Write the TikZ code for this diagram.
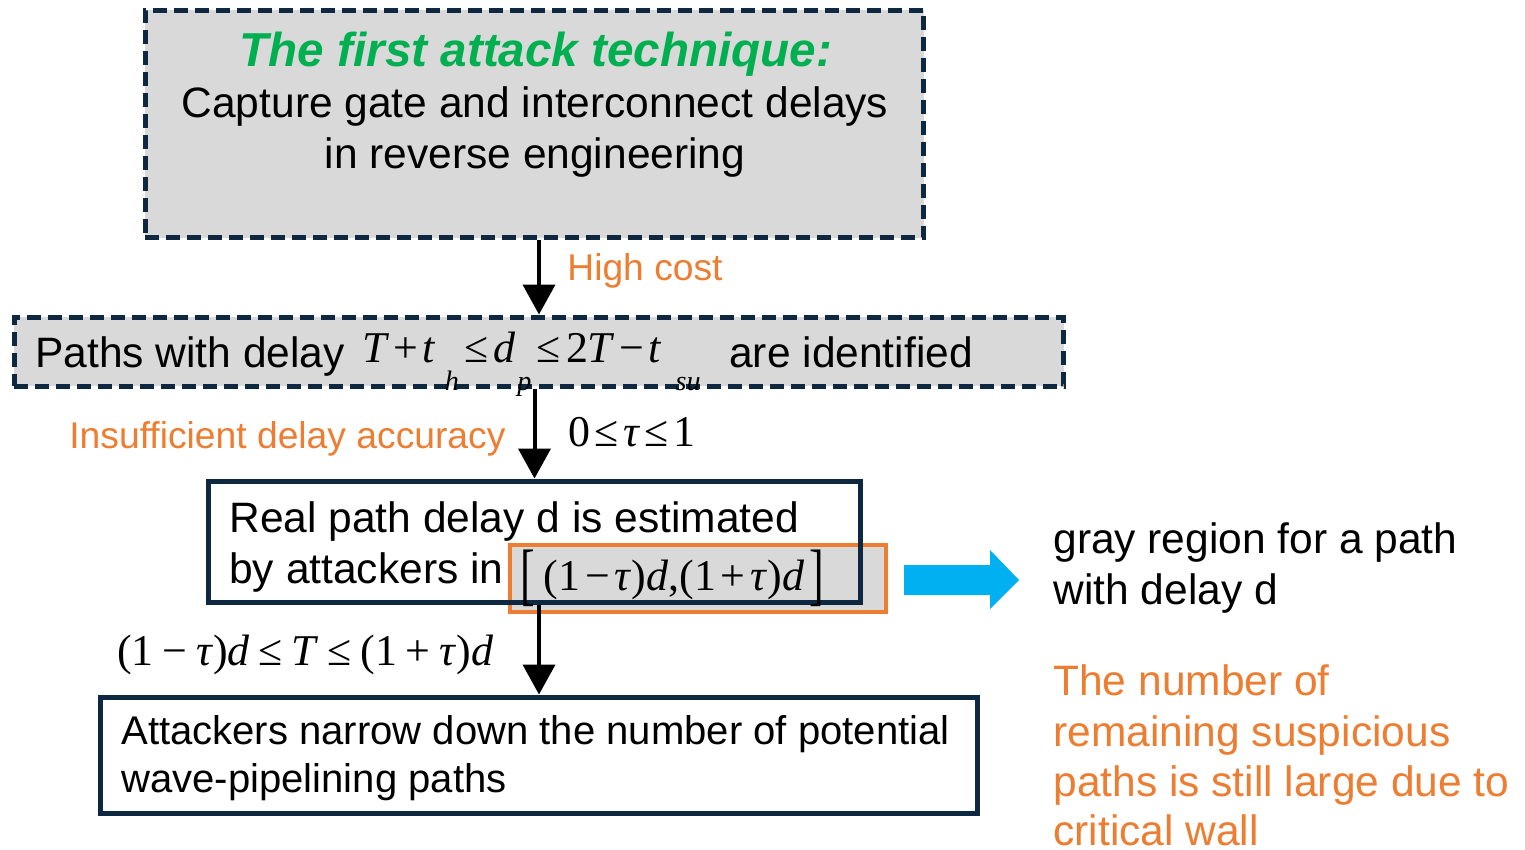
\documentclass[tikz,border=0pt]{standalone}
\usepackage{fontspec}
\usepackage{graphicx}
\setmainfont{Liberation Sans}
\newfontfamily\serifmath{Liberation Serif}
\usetikzlibrary{arrows.meta}

\definecolor{navy}{HTML}{0E2841}
\definecolor{boxgray}{HTML}{D9D9D9}
\definecolor{accentorange}{HTML}{ED7D31}
\definecolor{titlegreen}{HTML}{00B050}
\definecolor{arrowblue}{HTML}{00B0F0}

% hand-set formula helpers (serif, italic variables)
\newlength\bingap
\newlength\relgap
\newcommand\mv[1]{\textit{#1}}
\newcommand\bin[1]{\hspace{\bingap}#1\hspace{\bingap}}
\newcommand\rel[1]{\hspace{\relgap}#1\hspace{\relgap}}
\newcommand\lowsub[1]{\raisebox{-0.64em}{\fontsize{16}{16}\selectfont\itshape #1}}
\newcommand\tallbr[1]{\raisebox{-0.17em}{\scalebox{1}[1.56]{#1}}}

\tikzset{
  dashbox/.style={rectangle, draw=navy, line width=0.1cm, dash pattern=on 0.28cm off 0.14cm, fill=boxgray, inner sep=0},
  solidbox/.style={rectangle, draw=navy, line width=0.1cm, inner sep=0},
  regionbox/.style={rectangle, draw=accentorange, line width=0.09cm, fill=boxgray, inner sep=0},
  txt/.style={inner sep=0, font=\fontsize{24.2}{29}\selectfont},
  note/.style={inner sep=0, text=accentorange, font=\fontsize{21.2}{25}\selectfont},
  eq/.style={inner sep=0, font=\serifmath\fontsize{25}{30}\selectfont},
  flow/.style={line width=0.08cm, -{Triangle[length=0.6cm,width=0.64cm]}},
}

\begin{document}
\begin{tikzpicture}[x=0.02cm, y=-0.02cm]
\useasboundingbox (0,0) rectangle (1525,849);

% top box: the first attack technique
\node[dashbox, minimum width=15.58cm, minimum height=4.56cm] (technique) at (534.5,124) {};
\node[inner sep=0, anchor=base, text=titlegreen, font=\bfseries\itshape\fontsize{27.1}{32}\selectfont] (title) at (536,66) {The first attack technique:};
\node[txt, anchor=base] (cap1) at (535,117) {Capture gate and interconnect delays};
\node[txt, anchor=base] (cap2) at (535,168) {in reverse engineering};

% identified paths
\node[dashbox, minimum width=21cm, minimum height=1.38cm] (paths) at (539,351.5) {};
\node[txt, anchor=base west] (pathsA) at (35,367) {Paths with delay};
\node[eq, anchor=base west] (pathsEq) at (362,362)
  {\setlength\bingap{0.1em}\setlength\relgap{0.12em}%
   \mv{T}\bin{+}\mv{t}\kern5pt\lowsub{h}\rel{≤}\mv{d}\kern1pt\lowsub{p}\rel{≤}2\mv{T}\bin{−}\mv{t}\kern8pt\lowsub{su}};
\node[txt, anchor=base west] (pathsB) at (729,367) {are identified};

\draw[flow] (paths.north |- technique.south) -- (paths.north);
\node[note, anchor=base west] (cost) at (567,280) {High cost};

% delay estimate with its gray region
\node[regionbox, minimum width=7.52cm, minimum height=1.34cm] (grayregion) at (698,578.5) {};
\node[solidbox, minimum width=13.06cm, minimum height=2.44cm] (estimate) at (534.5,542) {};
\node[txt, anchor=base west] (est1) at (229,532) {Real path delay d is estimated};
\node[txt, anchor=base west] (est2) at (229,583) {by attackers in};
\node[eq, anchor=base west] (interval) at (520,590)
  {\setlength\bingap{0.11em}%
   \tallbr{[}\kern5pt(1\bin{−}\mv{τ})\mv{d},(1\bin{+}\mv{τ})\mv{d}\kern3pt\tallbr{]}};

\draw[flow] (paths.south -| estimate.north) -- (estimate.north);
\node[note, anchor=base west] (accuracy) at (69,448) {Insufficient delay accuracy};
\node[eq, anchor=base west] (tau) at (568,446)
  {\setlength\relgap{0.1em}0\rel{≤}\mv{τ}\rel{≤}1};

% narrowing step
\node[solidbox, minimum width=17.56cm, minimum height=2.32cm] (narrow) at (539,755) {};
\node[txt, anchor=base west, font=\fontsize{22.8}{27}\selectfont] (nar1) at (121,744) {Attackers narrow down the number of potential};
\node[txt, anchor=base west, font=\fontsize{22.8}{27}\selectfont] (nar2) at (121,792) {wave-pipelining paths};

\draw[flow] (narrow.north |- estimate.south) -- (narrow.north);
\node[eq, anchor=base west] (window) at (117,665)
  {\setlength\bingap{0.2em}\setlength\relgap{0.2em}%
   (1\bin{−}\mv{τ})\mv{d}\rel{≤}\mv{T}\rel{≤}(1\bin{+}\mv{τ})\mv{d}};

% side notes
\fill[arrowblue] (904,565) -- (990,565) -- (990,550) -- (1019,580) -- (990,609) -- (990,595) -- (904,595) -- cycle;
\node[txt, anchor=base west] (gr1) at (1053,553) {gray region for a path};
\node[txt, anchor=base west] (gr2) at (1053,604) {with delay d};
\node[txt, anchor=base west, text=accentorange] (rem1) at (1053,695) {The number of};
\node[txt, anchor=base west, text=accentorange] (rem2) at (1053,746) {remaining suspicious};
\node[txt, anchor=base west, text=accentorange] (rem3) at (1053,796) {paths is still large due to};
\node[txt, anchor=base west, text=accentorange] (rem4) at (1053,845) {critical wall};
\end{tikzpicture}
\end{document}
